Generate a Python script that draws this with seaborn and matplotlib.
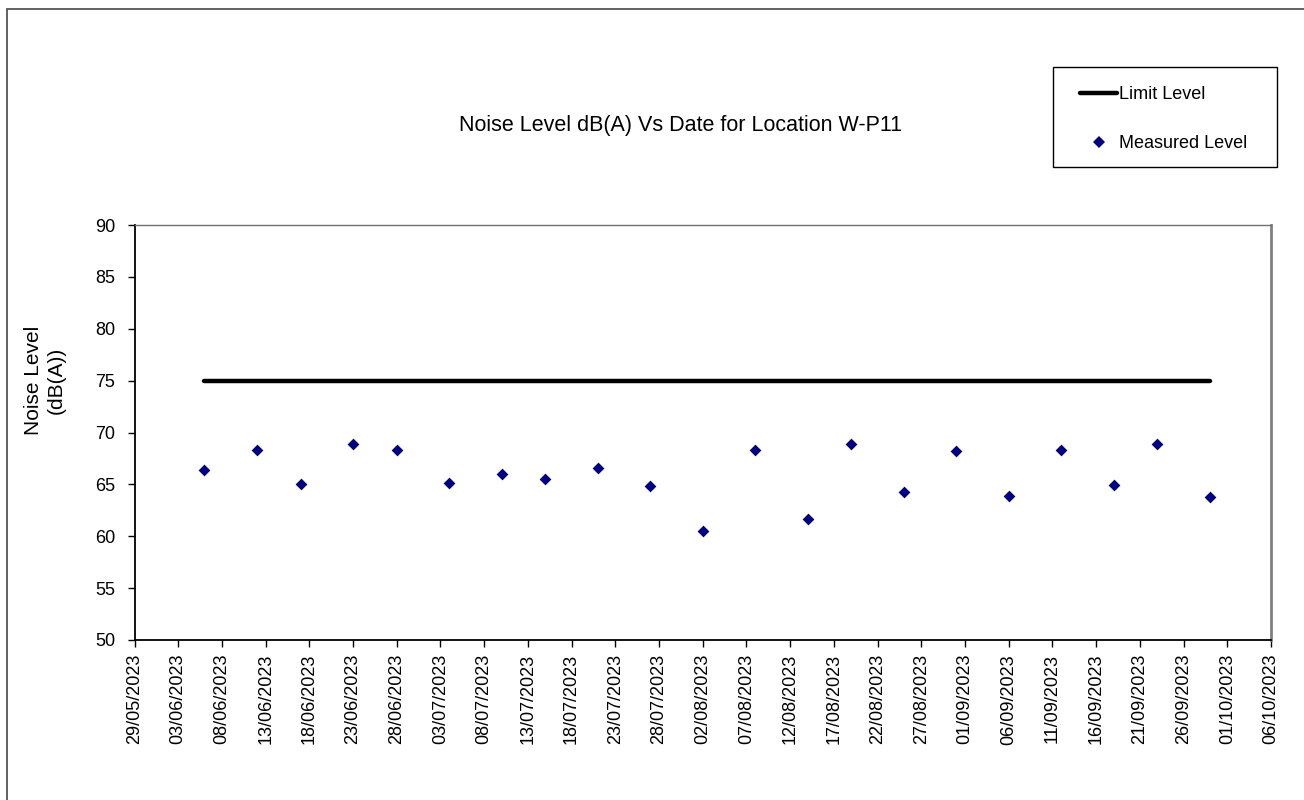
import matplotlib
matplotlib.use("Agg")
import matplotlib.pyplot as plt
import matplotlib.dates as mdates
from matplotlib.patches import Rectangle
from matplotlib.lines import Line2D
import pandas as pd
import seaborn as sns

# ---- data ----
dates = ["06/06/2023", "12/06/2023", "17/06/2023", "23/06/2023", "28/06/2023",
         "04/07/2023", "10/07/2023", "15/07/2023", "21/07/2023", "27/07/2023",
         "02/08/2023", "08/08/2023", "14/08/2023", "19/08/2023", "25/08/2023",
         "31/08/2023", "06/09/2023", "12/09/2023", "18/09/2023", "23/09/2023",
         "29/09/2023"]
measured = [66.4, 68.3, 65.0, 68.9, 68.3,
            65.1, 66.0, 65.5, 66.6, 64.8,
            60.5, 68.3, 61.7, 68.9, 64.3,
            68.2, 63.9, 68.3, 64.9, 68.9,
            63.8]
limit_level = 75
title = "Noise Level dB(A) Vs Date for Location W-P11"
y_label = "Noise Level\n(dB(A))"
x_start = "29/05/2023"
x_end = "06/10/2023"
y_ticks = [50, 55, 60, 65, 70, 75, 80, 85, 90]

df = pd.DataFrame({
    "date": pd.to_datetime(dates, format="%d/%m/%Y"),
    "measured": measured,
})
df["limit"] = limit_level

sns.set_theme(style="white")
plt.rcParams["font.family"] = ["Liberation Sans", "DejaVu Sans"]
plt.rcParams["text.color"] = "black"
plt.rcParams["axes.labelcolor"] = "black"
plt.rcParams["xtick.color"] = "black"
plt.rcParams["ytick.color"] = "black"

fig = plt.figure(figsize=(13.04, 8.0), dpi=100)
ax = fig.add_axes([134.5 / 1304, 160 / 800, (1271 - 134.5) / 1304, 415 / 800])

sns.lineplot(data=df, x="date", y="limit", ax=ax, color="black", linewidth=3.2,
             solid_capstyle="round", legend=False)
sns.scatterplot(data=df, x="date", y="measured", ax=ax, color="#000080",
                marker="D", s=36, linewidth=0, legend=False, zorder=3)

x0 = pd.to_datetime(x_start, format="%d/%m/%Y")
x1 = pd.to_datetime(x_end, format="%d/%m/%Y")
ax.set_xlim(x0, x1)
ax.set_ylim(50, 90)
ax.set_yticks(y_ticks)
ax.set_xticks(pd.date_range(x0, x1, freq="5D"))
ax.xaxis.set_major_formatter(mdates.DateFormatter("%d/%m/%Y"))
ax.set_xlabel("")
ax.set_ylabel(y_label, fontsize=15, linespacing=1.25, color="black")
ax.yaxis.set_label_coords((45 - 134.5) / 1136.5, (640 - 380) / 415)
ax.yaxis.label.set_verticalalignment("center")
ax.yaxis.label.set_horizontalalignment("center")

ax.tick_params(axis="y", direction="out", length=5, width=1, color="black",
               labelsize=13, pad=9, left=True, labelcolor="black")
ax.tick_params(axis="x", direction="out", length=5, width=1, color="black",
               pad=5, bottom=True, labelcolor="black")
for lbl in ax.get_xticklabels():
    lbl.set_rotation(90)
    lbl.set_fontfamily(["Liberation Sans Narrow", "Liberation Sans", "DejaVu Sans"])
    lbl.set_fontsize(13)

for side in ["left", "bottom"]:
    ax.spines[side].set_color("black")
    ax.spines[side].set_linewidth(1.3)
ax.spines["top"].set_color("#707070")
ax.spines["top"].set_linewidth(1.0)
ax.spines["right"].set_color("#808080")
ax.spines["right"].set_linewidth(2.0)
ax.grid(False)

fig.text(680.5 / 1304, 1 - 126 / 800, title, ha="center", va="center",
         fontsize=15.5, color="black")

# outer chart border (left & top visible)
fig.patches.append(Rectangle((7 / 1304, -0.1), 1.2, 1.1 - 9 / 800,
                             transform=fig.transFigure, fill=False,
                             edgecolor="#555555", linewidth=1.3, zorder=0))

# legend frame
fig.patches.append(Rectangle((1053 / 1304, 1 - 167 / 800), 224 / 1304, 100 / 800,
                             transform=fig.transFigure, fill=True,
                             facecolor="white", edgecolor="black",
                             linewidth=1.0, zorder=1))

handles = [Line2D([0], [0], color="black", linewidth=3.2, solid_capstyle="round"),
           Line2D([0], [0], color="#000080", marker="D", markersize=6,
                  linestyle="none", markeredgewidth=0)]
leg = fig.legend(handles, ["Limit Level", "Measured Level"],
                 loc="upper left",
                 bbox_to_anchor=(1080 / 1304, 1 - 86 / 800),
                 fontsize=13, frameon=False, handlelength=2.05,
                 handletextpad=0.1, labelspacing=1.78, borderpad=0,
                 borderaxespad=0)
leg.set_zorder(2)
for t in leg.get_texts():
    t.set_color("black")

fig.savefig("out.png", dpi=100)
